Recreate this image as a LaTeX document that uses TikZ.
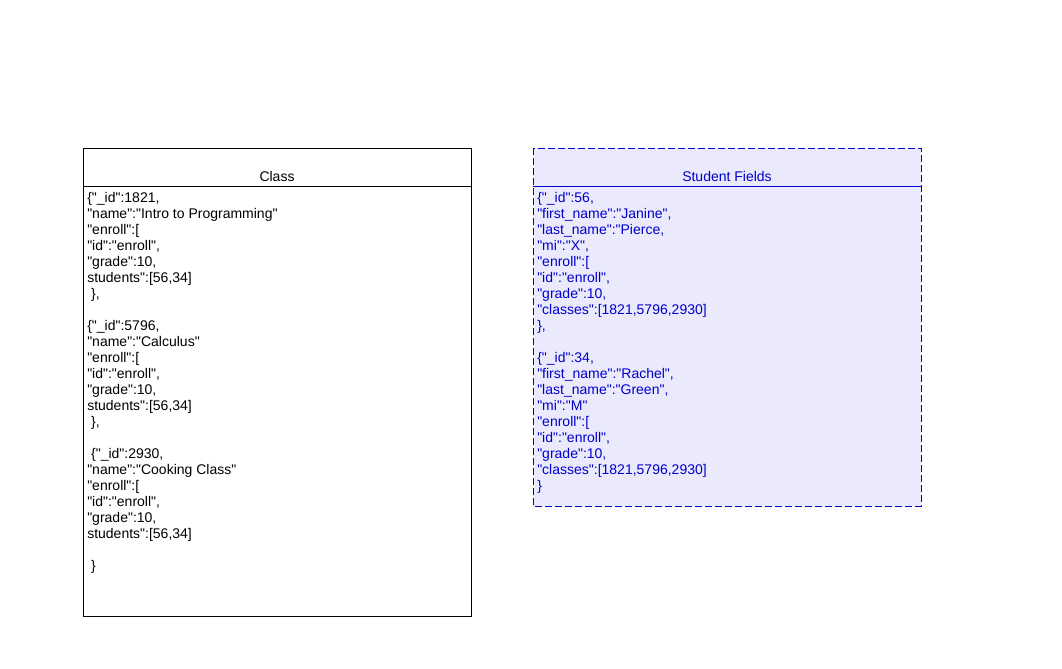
\documentclass[tikz,border=0pt]{standalone}
\usepackage{fontspec}
\setmainfont{Liberation Sans}[Ligatures=TeXOff]
\usepackage{tikz}
\usetikzlibrary{positioning}

\definecolor{fieldblue}{RGB}{0,0,204}
\definecolor{fieldfill}{RGB}{234,234,252}

\tikzset{
  boxtitle/.style={anchor=base, inner sep=0pt, font=\fontsize{10.5pt}{12pt}\selectfont},
  boxbody/.style={anchor=north west, inner sep=0pt, align=left, font=\fontsize{10.5pt}{12pt}\selectfont},
  dashframe/.style={draw=fieldblue, fill=fieldfill, dash pattern=on 5.25pt off 2.25pt}
}

\begin{document}
\begin{tikzpicture}[x=0.75pt,y=-0.75pt]
\useasboundingbox (0,0) rectangle (1062,668);

% class box
\draw[black] (83,148) rectangle (471,616);
\draw[black] (83,186) -- (471,186);
\node[boxtitle] (classtitle) at (277,181) {Class};
\node[boxbody] (classtext) at (87,192) {%
\{"\_id":1821,\\
"name":"Intro to Programming"\\
"enroll":[\\
"id":"enroll",\\
"grade":10,\\
students":[56,34]\\
\ \},\\
\strut\\
\{"\_id":5796,\\
"name":"Calculus"\\
"enroll":[\\
"id":"enroll",\\
"grade":10,\\
students":[56,34]\\
\ \},\\
\strut\\
\ \{"\_id":2930,\\
"name":"Cooking Class"\\
"enroll":[\\
"id":"enroll",\\
"grade":10,\\
students":[56,34]\\
\strut\\
\ \}};

% student box
\draw[dashframe] (533,148) rectangle (921,506);
\draw[fieldblue] (533,186) -- (921,186);
\node[boxtitle, text=fieldblue] (studenttitle) at (727,181) {Student Fields};
\node[boxbody, text=fieldblue] (studenttext) at (537,192) {%
\{"\_id":56,\\
"first\_name":"Janine",\\
"last\_name":"Pierce,\\
"mi":"X",\\
"enroll":[\\
"id":"enroll",\\
"grade":10,\\
"classes":[1821,5796,2930]\\
\},\\
\strut\\
\{"\_id":34,\\
"first\_name":"Rachel",\\
"last\_name":"Green",\\
"mi":"M"\\
"enroll":[\\
"id":"enroll",\\
"grade":10,\\
"classes":[1821,5796,2930]\\
\}};

\end{tikzpicture}
\end{document}
